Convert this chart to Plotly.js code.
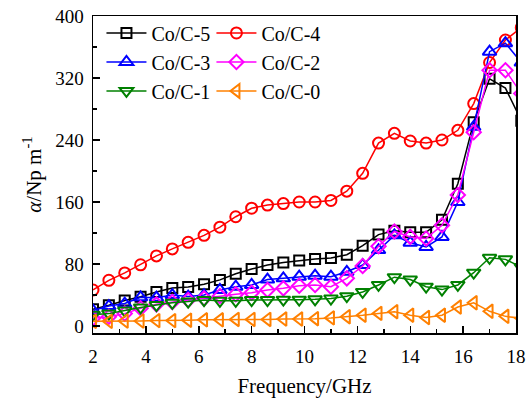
<!DOCTYPE html>
<html>
<head>
<meta charset="utf-8">
<script src="https://cdn.plot.ly/plotly-3.0.1.min.js"></script>
<style>html,body{margin:0;padding:0;background:#fff;}#chart{width:532px;height:401px;}</style>
</head>
<body>
<div id="chart"></div>
<script>
const freq = [2,2.6,3.2,3.8,4.4,5,5.6,6.2,6.8,7.4,8,8.6,9.2,9.8,10.4,11,11.6,12.2,12.8,13.4,14,14.6,15.2,15.8,16.4,17,17.6,18.2];
const co5 = [21.5,26.7,33,37.8,44,49,50.5,54,59.5,67.5,73.5,78.7,82,84.5,86.5,87.7,92,103.6,118,123,121,121,137,183.6,263,319,307,265];
const co4 = [46.5,59,68.5,79,90.5,99.5,108,117,127.5,141,152,156,158,160,160,162,174,197,236,248.6,238.7,236,240,252.5,287,340,369,385];
const co3 = [20,25.8,29,37,36.5,40,38,40,46.5,50.7,53,60,61.5,63.6,65,63.6,70,78.7,98,117,107.5,102,115,160,257,354,365,340];
const co2 = [10,12,16,23,28,31,33.5,35.7,38.7,41,43,46.5,48.6,52,53,50.7,61.5,77.4,103,122,115,113,130,169,250,330,330,300];
const co1 = [14.5,16,20,24,27,30,31.5,33.5,32.5,32.5,33.5,33.5,34,34,34.5,35.5,38.5,44,53,63,60,50.7,47,53,68.8,88,86,76];
const co0 = [6,6,6.5,6.5,7,7,7.5,8,8,8.5,8.5,8.5,9,9,9.5,10.5,12,14,16.3,18.5,14,11,14,24.5,30,19,12.5,10];
const names = ['Co/C-5','Co/C-4','Co/C-3','Co/C-2','Co/C-1','Co/C-0'];
const xTicks = [2,4,6,8,10,12,14,16,18];
const yTicks = [0,80,160,240,320,400];

const series = [co5, co4, co3, co2, co1, co0];
const colors = ['#000000','#ff0000','#0000ff','#ff00ff','#008000','#ff8000'];
const symbols = ['square-open','circle-open','triangle-up-open','diamond-open','triangle-down-open','triangle-left-open'];
const sizes = [10,11,12,11,12,12];
const legends = ['legend','legend2','legend','legend2','legend','legend2'];

const traces = series.map((y,i)=>({
  x: freq, y: y, name: names[i], type:'scatter', mode:'lines+markers',
  legend: legends[i],
  line:{color:colors[i], width:1.5},
  marker:{symbol:symbols[i], size:sizes[i], color:colors[i], line:{color:colors[i], width:2}},
  cliponaxis:true
}));

const font = {family:'"Liberation Serif", "Times New Roman", serif', color:'#000'};
const legendBase = {
  font:{...font, size:20}, bgcolor:'rgba(0,0,0,0)', borderwidth:0,
  xanchor:'left', yanchor:'top', y:1.008, tracegroupgap:0, itemwidth:40
};

const layout = {
  width:532, height:401,
  margin:{l:92.5, r:15.5, t:16, b:68},
  paper_bgcolor:'#fff', plot_bgcolor:'#fff',
  font:{...font, size:19},
  showlegend:true,
  legend:{...legendBase, x:0.02},
  legend2:{...legendBase, x:0.28},
  xaxis:{
    range:[2,18], tickmode:'array', tickvals:xTicks, ticktext:xTicks.map(String),
    ticks:'inside', ticklen:7, tickwidth:1.5, tickcolor:'#000',
    showline:true, linecolor:'#000', linewidth:1.5, mirror:true,
    showgrid:false, zeroline:false, tickfont:{...font, size:19},
    ticklabelstandoff:6,
    minor:{dtick:1, tick0:0, ticks:'inside', ticklen:4, tickwidth:1.5, tickcolor:'#000', showgrid:false},
    title:{text:'Frequency/GHz', font:{...font, size:21}, standoff:12}
  },
  yaxis:{
    range:[-9,400], tickmode:'array', tickvals:yTicks, ticktext:yTicks.map(String),
    ticks:'inside', ticklen:7, tickwidth:1.5, tickcolor:'#000',
    showline:true, linecolor:'#000', linewidth:1.5, mirror:true,
    showgrid:false, zeroline:false, tickfont:{...font, size:19},
    ticklabelstandoff:4,
    minor:{dtick:40, tick0:0, ticks:'inside', ticklen:4, tickwidth:1.5, tickcolor:'#000', showgrid:false},
    title:{text:'<i>α</i>/Np m<sup>-1</sup>', font:{...font, size:21}, standoff:8}
  }
};

Plotly.newPlot('chart', traces, layout, {staticPlot:true, displayModeBar:false});
</script>
</body>
</html>
